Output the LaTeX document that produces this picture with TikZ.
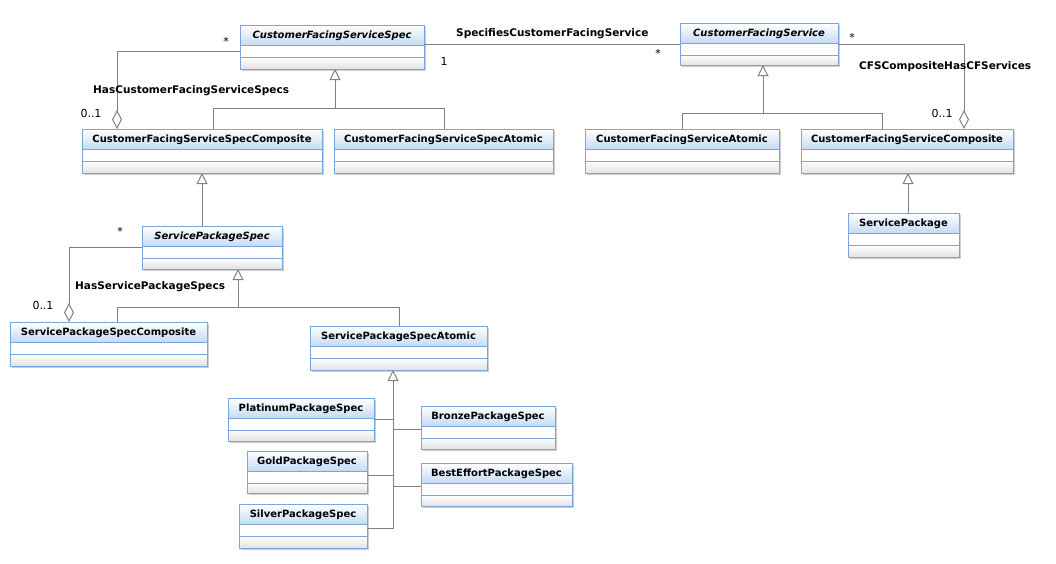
\documentclass[tikz,border=0pt]{standalone}
\usepackage{fontspec}
\setmainfont{DejaVu Sans}
\usetikzlibrary{arrows.meta,calc}
\definecolor{bordc}{RGB}{122,166,222}
\definecolor{titc}{RGB}{196,219,244}
\definecolor{linec}{RGB}{128,128,128}
\definecolor{shadc}{RGB}{205,205,205}
\definecolor{compc}{RGB}{226,226,226}
\tikzset{
  clsbox/.style={fill=white, inner sep=0pt, outer sep=0pt},
  clstitle/.style={inner sep=0pt, font=\fontsize{10}{12}\selectfont\bfseries},
  ln/.style={draw=linec, line width=1pt},
  gen/.style={ln, -{Triangle[open, length=11pt, width=11pt, line width=1pt]}},
  agg/.style={ln, -{Diamond[open, length=19pt, width=10pt, line width=1pt]}},
  asslabel/.style={inner sep=0pt, anchor=base west, font=\fontsize{10.5}{12}\selectfont\bfseries},
  mult/.style={inner sep=0pt, font=\fontsize{11}{12}\selectfont},
}
\newcommand\umlclass[6]{%
  \fill[shadc] (#2+2,#3+2) rectangle (#4+2,#5+2);
  \node[clsbox, minimum width={#4-#2}, minimum height={#5-#3}] (#1) at ({(#2+#4)/2},{(#3+#5)/2}) {};
  \shade[top color=white, bottom color=titc] (#2,#3) rectangle (#4,#3+20);
  \shade[top color=white, bottom color=compc] (#2,#3+32) rectangle (#4,#5);
  \draw[bordc, line width=1pt] (#2,#3) rectangle (#4,#5) (#2,#3+20) -- (#4,#3+20) (#2,#3+32) -- (#4,#3+32);
  \node[clstitle] (#1-t) at ({(#2+#4)/2},#3+11) {#6};
}
\begin{document}
\begin{tikzpicture}[x=1pt, y=-1pt]
\useasboundingbox[fill=white] (0,0) rectangle (1056,563);
% classes
\umlclass{cfss}{240}{25}{424}{69}{\itshape CustomerFacingServiceSpec}
\umlclass{cfsc}{82}{129}{322}{173}{CustomerFacingServiceSpecComposite}
\umlclass{cfsa}{334}{129}{553}{173}{CustomerFacingServiceSpecAtomic}
\umlclass{cfs}{680}{23}{838}{65}{\itshape CustomerFacingService}
\umlclass{cfsat}{585}{129}{779}{173}{CustomerFacingServiceAtomic}
\umlclass{cfsco}{801}{129}{1013}{173}{CustomerFacingServiceComposite}
\umlclass{sp}{848}{213}{959}{257}{ServicePackage}
\umlclass{sps}{142}{226}{282}{269}{\itshape ServicePackageSpec}
\umlclass{spsc}{10}{322}{207}{366}{ServicePackageSpecComposite}
\umlclass{spsa}{310}{326}{487}{370}{ServicePackageSpecAtomic}
\umlclass{plat}{228}{398}{374}{441}{PlatinumPackageSpec}
\umlclass{bron}{421}{406}{555}{449}{BronzePackageSpec}
\umlclass{gold}{247}{451}{367}{493}{GoldPackageSpec}
\umlclass{best}{421}{463}{572}{506}{BestEffortPackageSpec}
\umlclass{silv}{239}{504}{367}{548}{SilverPackageSpec}
% junction coordinates
\coordinate (g1a) at (213,108);
\coordinate (g1b) at (444,108);
\coordinate (g1h) at (335,108);
\coordinate (g2a) at (682,113);
\coordinate (g2b) at (882,113);
\coordinate (g2h) at (763,113);
\coordinate (g3) at (908,200);
\coordinate (g4) at (202,200);
\coordinate (g5a) at (117,307);
\coordinate (g5b) at (399,307);
\coordinate (g5h) at (238,307);
\coordinate (g6) at (393,528);
\coordinate (s1) at (393,419);
\coordinate (s2) at (393,429);
\coordinate (s3) at (393,475);
\coordinate (s4) at (393,486);
\coordinate (a1) at (117,51);
\coordinate (a2) at (550,44);
\coordinate (a3) at (964,44);
\coordinate (a4) at (69,247);
% generalizations
\draw[ln] (cfsc.north -| g1a) -- (g1a) -- (g1b) -- (cfsa.north -| g1b);
\draw[gen] (g1h) -- (cfss.south -| g1h);
\draw[ln] (cfsat.north -| g2a) -- (g2a) -- (g2b) -- (cfsco.north -| g2b);
\draw[gen] (g2h) -- (cfs.south -| g2h);
\draw[gen] (sp.north -| g3) -- (cfsco.south -| g3);
\draw[gen] (sps.north -| g4) -- (cfsc.south -| g4);
\draw[ln] (spsc.north -| g5a) -- (g5a) -- (g5b) -- (spsa.north -| g5b);
\draw[gen] (g5h) -- (sps.south -| g5h);
\draw[gen] (silv.east |- g6) -- (g6) -- (spsa.south -| g6);
\draw[ln] (plat.east |- s1) -- (s1);
\draw[ln] (bron.west |- s2) -- (s2);
\draw[ln] (gold.east |- s3) -- (s3);
\draw[ln] (best.west |- s4) -- (s4);
% associations
\draw[agg] (cfss.west |- a1) -- (a1) -- (cfsc.north -| a1);
\draw[ln] (cfss.east |- a2) -- (cfs.west |- a2);
\draw[agg] (cfs.east |- a3) -- (a3) -- (cfsco.north -| a3);
\draw[agg] (sps.west |- a4) -- (a4) -- (spsc.north -| a4);
% association labels
\node[asslabel] (l1) at (93,93) {HasCustomerFacingServiceSpecs};
\node[asslabel] (l2) at (456,36) {SpecifiesCustomerFacingService};
\node[asslabel] (l3) at (859,69) {CFSCompositeHasCFServices};
\node[asslabel] (l4) at (75,289) {HasServicePackageSpecs};
% multiplicities
\node[mult] (m1) at (226,41) {*};
\node[mult] (m2) at (91,113) {0..1};
\node[mult] (m3) at (444,61) {1};
\node[mult] (m4) at (658,53) {*};
\node[mult] (m5) at (852,37) {*};
\node[mult] (m6) at (942,113) {0..1};
\node[mult] (m7) at (120,231) {*};
\node[mult] (m8) at (43,305) {0..1};
\end{tikzpicture}
\end{document}
